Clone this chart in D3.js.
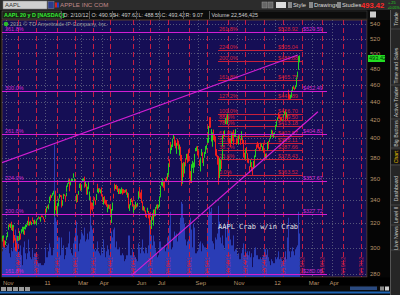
<!DOCTYPE html>
<html><head><meta charset="utf-8">
<script src="https://cdn.jsdelivr.net/npm/d3@7"></script>
<style>
html,body{margin:0;padding:0;background:#0b0b0b;overflow:hidden;}
svg{display:block;font-family:"Liberation Sans",Arial,sans-serif;}
</style></head><body>
<svg id="c" width="400" height="295"></svg>
<script>
// ---------------- DATA (AAPL daily, 25 Oct 2010 - 10 Feb 2012) ----------------
const opens = [
309.1,306.9,307.7,307.9,304.2,
302.2,307.0,311.4,315.5,317.9,317.2,321.0,316.5,315.6,315.0,308.5,305.7,301.2,305.6,307.9,306.7,311.0,312.0,313.8,315.5,313.5,
315.3,317.5,317.0,318.6,325.5,319.4,322.1,319.7,324.5,321.5,320.0,321.1,321.6,321.6,323.2,324.4,325.0,322.9,325.9,326.2,325.5,322.9,
325.6,332.4,329.6,334.7,333.9,338.8,344.9,343.3,345.2,346.0,329.5,348.4,336.4,333.8,326.9,336.3,342.9,343.8,344.2,335.8,
341.3,344.5,343.8,343.6,347.9,353.7,355.2,357.4,354.8,356.8,359.2,360.8,357.0,358.2,342.4,338.8,344.0,345.3,351.2,
355.5,349.9,357.2,359.7,361.4,354.9,354.7,349.1,345.3,353.2,342.1,342.0,336.8,337.1,335.0,342.6,339.3,341.9,348.1,353.2,347.7,350.6,346.4,
351.1,344.3,336.9,341.2,338.1,339.9,335.0,330.4,335.0,334.8,333.3,326.1,333.1,343.5,355.0,350.3,353.6,352.2,346.2,346.8,
349.7,347.9,348.4,348.4,349.7,347.9,348.9,349.0,346.1,345.8,339.2,332.0,336.5,341.3,339.6,329.1,335.5,333.3,335.9,334.8,341.1,
348.9,346.5,345.7,345.7,338.9,331.8,333.3,330.5,327.0,330.0,329.8,326.0,328.8,317.4,316.7,325.2,318.0,331.4,327.3,333.0,336.1,334.7,
335.9,343.0,349.2,354.7,353.3,354.7,353.8,358.3,361.0,361.1,364.5,378.0,396.0,386.9,388.3,391.8,400.1,400.6,392.0,387.6,
397.8,397.6,390.9,389.4,380.4,361.7,361.3,371.2,370.5,378.5,379.0,381.3,382.4,370.3,362.7,364.5,360.3,372.2,365.2,372.0,388.6,388.3,390.6,
385.8,375.6,367.5,385.6,383.8,382.5,372.6,382.1,387.8,392.0,395.5,396.5,415.3,419.6,401.0,400.3,399.9,408.7,400.2,401.9,387.1,
380.4,374.6,367.9,373.3,375.8,379.1,392.6,407.3,404.7,416.8,421.2,421.8,401.4,400.0,398.1,395.1,405.0,401.8,407.6,402.7,402.4,
397.4,399.9,399.1,402.0,399.9,402.2,396.9,398.0,386.6,383.5,380.8,389.3,383.9,378.9,370.4,371.0,374.5,368.4,372.4,375.8,381.3,
382.5,389.8,393.5,392.5,389.9,391.5,392.9,388.8,393.0,386.7,383.3,380.4,382.5,387.8,396.7,397.0,399.7,403.1,406.9,403.4,403.5,
409.4,410.0,414.9,419.8,425.5,425.9,422.6,422.3,419.7,424.2,426.0,430.0,427.5,422.7,425.1,454.4,448.0,444.3,445.7,455.6,
458.4,455.9,457.3,458.4,465.3,470.5,480.0,490.96];
const highs = [
311.6,309.7,309.9,308.0,305.9,
305.6,309.6,312.9,318.8,319.6,319.8,321.3,318.8,318.4,316.8,310.2,307.6,303.6,309.4,308.0,313.4,311.4,315.0,317.0,317.0,314.0,
317.2,319.0,318.9,322.0,325.5,321.3,322.2,321.1,325.0,322.6,323.0,322.6,321.6,323.2,324.4,325.7,325.2,325.4,326.7,326.5,325.5,323.5,
330.3,332.5,334.3,335.3,336.4,343.2,344.9,344.4,346.6,348.5,344.8,348.6,338.3,334.9,337.5,341.4,345.6,344.7,344.4,340.0,
345.7,345.3,344.2,346.7,353.3,355.5,359.0,360.0,357.8,359.5,359.9,364.9,360.3,359.4,345.4,344.6,345.2,348.4,355.1,
355.7,354.4,359.8,360.0,361.7,357.4,354.8,349.8,352.3,356.5,347.8,343.0,338.0,337.8,339.6,342.6,340.2,345.5,352.0,355.0,350.9,350.9,349.8,
351.6,344.9,342.9,343.6,340.4,340.1,336.4,333.6,336.1,336.0,333.6,332.2,337.9,345.8,355.1,353.8,354.2,352.9,349.1,350.6,
350.5,349.9,351.5,350.3,350.0,349.2,349.7,350.0,347.1,346.3,341.2,336.3,341.1,342.0,340.0,334.9,335.9,338.6,336.4,337.6,348.0,
352.1,347.0,347.0,349.5,338.9,334.8,333.7,331.0,328.2,333.3,330.4,326.9,328.8,317.8,325.8,328.6,331.7,331.9,333.9,336.0,336.4,336.0,
343.5,349.8,353.0,357.7,360.0,357.8,357.4,360.0,361.6,365.1,374.6,378.6,396.3,390.3,393.5,399.8,404.5,402.0,398.0,395.2,
399.5,397.6,393.6,391.3,383.0,367.3,374.7,376.0,375.5,379.6,384.0,384.2,388.6,372.7,367.0,366.2,373.7,377.0,375.4,384.0,390.0,391.5,392.1,
387.6,378.3,380.3,385.6,389.0,385.6,380.0,386.0,392.0,393.3,400.6,413.2,422.9,422.9,409.8,406.2,404.0,409.3,403.7,402.2,388.9,
382.6,381.8,379.8,378.0,377.7,388.9,403.2,407.6,408.5,422.1,425.0,426.7,408.9,400.4,399.1,406.0,406.0,402.0,409.0,405.5,409.7,
399.5,400.0,403.2,403.4,400.0,407.6,400.9,398.3,388.7,385.2,389.5,391.1,384.6,379.0,371.7,377.9,375.8,371.0,377.0,378.8,382.4,
389.0,393.6,396.4,394.6,390.9,395.5,394.6,391.9,395.4,387.4,383.7,384.2,384.5,396.1,397.3,399.1,403.6,409.1,408.3,405.7,406.3,
412.5,414.7,418.6,422.8,427.8,426.0,422.9,422.9,420.5,426.0,429.5,431.4,427.5,428.5,425.1,454.5,448.8,448.5,453.9,458.2,
459.0,457.2,460.0,465.0,469.8,476.8,496.8,497.62];
const lows = [
307.5,305.0,305.6,300.9,300.1,
302.2,306.0,308.5,314.5,316.8,316.0,314.3,313.5,314.3,303.9,305.7,297.7,297.0,305.2,305.4,305.9,306.6,311.5,313.0,310.8,310.3,
315.0,314.8,316.7,318.3,318.0,318.0,319.0,318.4,321.6,319.3,319.0,320.0,320.0,318.2,322.9,323.9,323.3,321.3,325.1,325.1,323.2,320.9,
324.8,328.2,329.2,332.9,331.9,337.2,339.4,342.0,343.9,345.1,326.0,336.9,331.1,326.6,326.5,334.6,341.5,342.8,333.5,335.0,
340.9,343.6,338.6,343.5,347.6,352.2,354.9,348.0,353.5,356.6,357.6,360.5,356.5,346.8,337.7,338.4,338.4,344.8,351.0,
348.4,348.6,356.7,357.8,351.3,352.3,348.5,344.9,345.0,349.9,340.1,326.3,331.6,330.0,334.9,339.6,335.9,339.9,347.0,350.1,346.1,347.3,346.1,
343.3,338.6,336.0,337.0,336.0,334.3,330.0,329.3,332.5,332.1,326.8,320.2,330.9,341.5,348.5,350.1,349.6,347.4,345.5,346.3,
345.5,345.6,346.1,345.0,346.2,346.5,347.0,344.9,342.3,340.0,332.6,330.5,335.5,338.3,334.3,329.0,331.3,332.4,333.5,334.3,340.6,
344.7,342.8,341.2,337.6,331.0,330.7,330.0,325.5,324.6,329.3,324.1,318.3,319.5,310.5,315.2,322.4,318.0,325.7,326.1,332.6,331.6,332.8,
334.4,342.5,347.3,353.5,352.5,351.2,348.6,356.7,356.4,358.9,363.6,370.9,385.0,384.0,387.8,391.0,399.7,392.2,389.6,384.0,
392.4,388.4,382.2,377.0,362.6,353.0,355.0,361.2,364.7,371.6,378.3,375.0,376.2,359.7,355.9,355.6,357.3,370.1,365.1,370.6,386.6,386.8,382.4,
380.0,371.9,366.6,382.0,382.0,375.0,371.9,380.1,383.9,388.4,395.0,395.4,411.0,411.4,396.7,399.2,391.3,398.1,396.5,382.2,381.2,
373.2,354.2,360.3,366.9,369.1,378.2,391.5,400.0,402.5,415.3,415.0,415.0,396.8,394.9,390.8,394.9,397.0,393.0,401.9,401.6,401.8,
393.2,394.1,393.3,399.2,393.3,398.1,394.2,383.5,380.3,378.2,378.6,384.4,375.2,374.6,365.2,370.9,366.8,363.3,370.1,370.2,378.4,
380.8,388.6,390.4,389.2,386.8,388.4,391.0,387.3,385.2,377.7,378.3,379.6,380.0,387.5,389.0,396.3,399.5,403.0,401.5,400.5,403.5,
409.0,409.3,412.5,419.2,421.4,421.5,419.3,418.8,418.7,423.0,425.9,426.0,419.8,422.3,419.6,443.7,443.1,443.8,445.4,453.1,
455.6,454.0,455.6,458.2,464.1,469.8,479.0,488.55];
const closes = [
308.84,308.05,307.83,305.24,300.98,
304.18,309.36,312.80,318.27,317.13,318.62,316.08,318.03,316.66,308.03,307.04,301.59,300.50,308.43,306.73,313.36,308.73,314.80,315.00,316.87,311.15,
316.40,318.15,317.44,320.15,318.21,321.01,319.76,320.56,321.67,320.29,320.36,321.25,320.61,322.21,324.20,325.16,323.60,324.68,325.47,325.29,323.66,322.56,
329.57,331.29,334.00,333.73,336.12,342.46,341.64,344.42,345.68,348.48,340.65,338.84,332.68,326.72,337.45,341.40,343.85,343.21,336.10,339.32,
345.03,344.32,343.44,346.50,351.88,355.20,358.16,354.54,356.85,359.18,359.90,363.13,358.30,350.56,338.61,342.62,342.88,348.16,353.21,
349.31,352.12,359.56,360.00,355.36,355.76,352.47,346.67,351.99,353.56,345.43,330.01,334.64,330.67,339.30,341.20,339.19,344.97,351.54,350.44,350.96,348.63,348.51,
344.56,341.19,338.89,338.04,338.08,335.06,330.80,332.40,336.13,332.42,327.46,331.85,337.86,342.41,350.70,353.01,350.42,350.15,346.75,350.13,
346.28,348.20,349.57,346.75,346.66,347.60,349.45,347.23,346.57,340.50,333.30,336.14,339.87,340.53,335.22,334.40,332.19,336.78,335.00,337.41,347.83,
345.51,346.10,343.44,338.04,332.04,332.24,331.49,325.90,326.60,332.44,326.75,325.16,320.26,315.32,325.30,322.61,331.23,326.35,332.04,335.26,334.04,335.67,
343.26,349.43,351.76,357.20,359.71,354.00,353.75,358.02,357.77,364.92,373.80,376.85,386.90,387.29,393.30,398.50,403.41,392.59,391.82,390.48,
396.75,388.91,392.57,377.37,373.62,353.21,374.01,363.69,373.70,376.99,383.41,380.48,380.44,366.05,356.03,356.44,373.60,376.18,373.72,383.58,389.97,389.99,384.83,
381.03,374.05,379.74,383.93,384.14,377.48,379.94,384.62,389.30,392.96,400.50,411.63,413.45,412.14,401.82,404.30,403.17,399.26,397.01,390.57,381.32,
374.60,372.50,378.25,377.37,369.80,388.81,400.29,402.19,408.43,422.00,419.99,422.24,398.62,395.31,392.87,405.77,397.77,400.60,404.69,404.95,404.78,
396.51,397.41,403.07,400.24,399.73,406.23,395.28,385.22,384.62,379.26,388.83,384.77,377.41,374.94,369.01,376.51,366.99,363.57,376.12,373.20,382.20,
387.93,389.70,393.01,390.95,389.09,390.66,393.62,391.84,388.81,380.19,378.94,381.02,382.21,395.95,396.45,398.55,403.33,406.53,402.64,405.12,405.00,
411.23,413.44,418.03,422.40,421.73,423.24,422.55,421.39,419.81,424.70,429.11,427.75,420.30,427.41,420.41,446.66,444.63,447.28,453.01,456.48,
456.19,455.12,459.68,463.97,468.83,476.68,493.17,493.42];
const volumes = [ // millions of shares
15,13,14,16,15,
14,15,16,17,12,10,14,13,11,20,15,24,21,18,11,13,16,11,6,15,18,
14,12,9,12,19,13,10,9,14,10,12,10,12,12,8,7,7,7,6,6,6,7,
15,11,10,10,13,17,15,11,11,14,67,30,23,28,18,20,20,11,20,14,
16,9,11,10,15,15,17,23,14,12,11,17,20,24,28,22,21,13,17,
19,23,22,21,25,18,17,19,22,19,23,41,26,24,17,14,13,14,18,13,13,12,11,
15,12,19,14,10,13,16,14,14,11,17,23,20,24,25,15,18,14,14,13,
15,11,11,12,11,8,9,11,11,13,21,21,11,11,14,12,11,10,9,8,17,
15,11,12,15,19,13,12,15,14,12,16,25,30,27,21,16,21,18,14,12,10,11,
18,18,16,15,15,15,16,13,15,20,21,26,33,17,14,15,20,23,21,22,
18,21,23,30,38,36,37,30,27,19,16,18,19,27,30,19,24,15,27,25,12,12,13,
14,17,18,12,13,17,16,15,15,14,24,31,35,33,35,18,18,17,14,20,19,
22,36,28,20,17,15,21,16,14,26,20,28,38,24,19,16,16,21,18,13,14,
14,11,12,9,9,12,14,17,12,11,15,12,13,11,13,10,12,5,10,12,14,
15,11,11,9,9,10,9,10,11,15,13,14,11,14,10,8,6,9,8,7,7,
10,9,9,10,13,9,10,9,8,8,10,9,13,9,20,30,13,10,13,15,
13,11,14,11,15,16,33,22];

const priceTicks = [540,520,500,480,460,440,420,400,380,360,340,320,300,280];
const monthLabels = ["Nov","11","Mar","Apr","Jun","Jul","Sep","Nov","12","Mar","Apr"];
const monthBars   = [5,48,87,110,151,173,216,258,300,340,362];

const timeLineBars   = [18,38,61,81,101,119,144,163,183,206,225,248,267,288,309,330,352,374,394];
const timeLineLabels = ["11/18/10","12/17/10","1/21/11","2/18/11","3/21/11","4/14/11","5/20/11","6/17/11","7/18/11","8/18/11","9/15/11","10/18/11","11/14/11","12/14/11","1/17/12","2/15/12","3/19/12","4/19/12","5/17/12"];

const bigFibPct   = ["161.8%","200.0%","224.0%","261.8%","300.0%","361.8%"];
const bigFibPrice = [280.06,327.72,357.67,404.83,452.49,529.59];

const crabFibPct   = ["0.0%","23.6%","38.2%","50.0%","61.8%","78.6%","88.6%","100.0%","127.2%","161.8%","200.0%","224.0%","261.8%"];
const crabFibPrice = [363.52,378.43,387.66,395.11,402.57,413.18,419.50,426.70,443.89,465.75,489.88,505.04,528.92];

const trendA = [[0,375],[325,498]];   // [bar, price]
const trendB = [[143,279],[347,429]];

const headerFields = ["D: 2/10/12","O: 490.96","H: 497.62","L: 488.55","C: 493.42","R: 9.07","Volume 22,546,425"];
const sideTabs = ["Trade","Time and Sales","Active Trader","Big Buttons","Chart","Dashboard","Level II","Live News"];

// ---------------- LAYOUT ----------------
const svg = d3.select("#c");
const P = {l:2, r:367, t:20, b:277};
const x = d3.scaleLinear().domain([0,400]).range([1.2, 1.2 + 400*0.9127]);
const y = d3.scaleLog().domain([277.8,546]).range([P.b, P.t]);
const yv = d3.scaleLinear().domain([0,130]).range([P.b, P.t]);

svg.append("rect").attr("width",400).attr("height",295).attr("fill","#080808");

// ---- top toolbar ----
svg.append("rect").attr("x",0).attr("y",0).attr("width",400).attr("height",10).attr("fill","#2c2c2c");
svg.append("rect").attr("x",3).attr("y",1).attr("width",44).attr("height",8).attr("fill","#cfcfcf").attr("stroke","#777").attr("stroke-width",0.5);
svg.append("text").attr("x",5).attr("y",7.4).attr("font-size",6).attr("fill","#333").text("AAPL");
svg.append("rect").attr("x",48).attr("y",1.5).attr("width",6).attr("height",7).attr("fill","#2c3e8c").attr("stroke","#889").attr("stroke-width",0.5);
svg.append("rect").attr("x",55).attr("y",2.5).attr("width",2).attr("height",5).attr("fill","#d02020");
svg.append("rect").attr("x",57).attr("y",2.5).attr("width",2).attr("height",5).attr("fill","#2040c0");
svg.append("text").attr("x",60).attr("y",7.4).attr("font-size",6.2).attr("fill","#c08a8a").text("APPLE INC COM");
[[262,5],[268,5]].forEach(b=>svg.append("rect").attr("x",b[0]).attr("y",2).attr("width",b[1]).attr("height",6).attr("fill","#666").attr("stroke","#999").attr("stroke-width",0.5));
svg.append("rect").attr("x",276).attr("y",2).attr("width",10).attr("height",6).attr("fill","#ddd");
const tbtn = [["Style",288],["Drawings",309],["Studies",337]];
tbtn.forEach(b=>{
  svg.append("rect").attr("x",b[1]).attr("y",2).attr("width",4).attr("height",6).attr("fill","#888");
  svg.append("text").attr("x",b[1]+5).attr("y",7.4).attr("font-size",5.8).attr("fill","#ddd").text(b[0]);
});
svg.append("text").attr("x",361).attr("y",8.3).attr("font-size",7.6).attr("font-weight","bold").attr("fill","#ff2a2a").text("493.42");
svg.append("text").attr("x",388).attr("y",4.3).attr("font-size",3.8).attr("fill","#22dd22").text("+.25");
svg.append("text").attr("x",387.5).attr("y",8.8).attr("font-size",3.6).attr("fill","#22dd22").text("+0.05%");

// ---- header row ----
svg.append("rect").attr("x",0).attr("y",10).attr("width",400).attr("height",10).attr("fill","#0c0c0c");
svg.append("rect").attr("x",2).attr("y",11).attr("width",59).attr("height",8).attr("fill","#1b2416").attr("stroke","#666").attr("stroke-width",0.5);
svg.append("text").attr("x",4).attr("y",17.2).attr("font-size",5.4).attr("font-weight","bold").attr("fill","#33ee33").text("AAPL 20 y D [NASDAQ]");
const hx = [62,90,113,137,160,184,210];
headerFields.forEach((t,i)=>{
  svg.append("text").attr("x",hx[i]+1.5).attr("y",17.2).attr("font-size",5.4).attr("fill","#cfcfcf").text(t);
  svg.append("line").attr("x1",hx[i]-0.5).attr("x2",hx[i]-0.5).attr("y1",11).attr("y2",19).attr("stroke","#555");
});
svg.append("rect").attr("x",253).attr("y",11).attr("width",114).attr("height",8).attr("fill","none").attr("stroke","#444").attr("stroke-width",0.5);
svg.append("rect").attr("x",370).attr("y",11.5).attr("width",6).attr("height",6).attr("fill","#ccc");

// ---- plot area ----
svg.append("rect").attr("x",P.l).attr("y",P.t).attr("width",P.r-P.l).attr("height",P.b-P.t).attr("fill","#150e55").attr("stroke","#5a4030").attr("stroke-width",1);
svg.append("defs").append("clipPath").attr("id","clip").append("rect").attr("x",P.l).attr("y",P.t).attr("width",P.r-P.l).attr("height",P.b-P.t);
const g = svg.append("g").attr("clip-path","url(#clip)");

g.selectAll(".hg").data(priceTicks).join("line").attr("x1",P.l).attr("x2",P.r)
  .attr("y1",d=>Math.round(y(d))+0.5).attr("y2",d=>Math.round(y(d))+0.5)
  .attr("stroke","#55557a").attr("stroke-dasharray","1,2");
g.selectAll(".vg").data(monthBars).join("line").attr("y1",P.t).attr("y2",P.b)
  .attr("x1",d=>Math.round(x(d))+0.5).attr("x2",d=>Math.round(x(d))+0.5)
  .attr("stroke","#55557a").attr("stroke-dasharray","1,2");

g.selectAll(".vol").data(volumes).join("rect")
  .attr("x",(d,i)=>Math.floor(x(i))).attr("width",1)
  .attr("y",d=>yv(d)).attr("height",d=>P.b-yv(d)).attr("fill","#2a3db6");

g.selectAll(".tl").data(timeLineBars).join("line")
  .attr("x1",d=>Math.round(x(d))+0.5).attr("x2",d=>Math.round(x(d))+0.5)
  .attr("y1",P.t).attr("y2",P.b).attr("stroke","#c41e44").attr("stroke-width",1).attr("stroke-dasharray","5,3");
g.selectAll(".tlt").data(timeLineBars).join("text")
  .attr("transform",d=>`translate(${Math.round(x(d))+0.5},${P.b-2}) rotate(-90)`)
  .attr("dy","0.35em").attr("font-size",5.5).attr("fill","#d8204a")
  .text((d,i)=>timeLineLabels[i]);

const cx0 = 218, cx1 = 303;
crabFibPrice.forEach((p,i)=>{
  const yy = Math.round(y(p))+0.5;
  g.append("line").attr("x1",cx0).attr("x2",cx1).attr("y1",yy).attr("y2",yy).attr("stroke","#c8203c").attr("stroke-width",1);
  g.append("text").attr("x",cx0+1).attr("y",yy-1.2).attr("font-size",5.5).attr("fill","#d8203c").text(crabFibPct[i]);
  g.append("text").attr("x",cx0+60).attr("y",yy-1.2).attr("font-size",5.5).attr("fill","#d8203c").text("$"+p.toFixed(2));
});

const idx = d3.range(closes.length);
g.selectAll(".cd").data(idx).join("rect")
  .attr("x",i=>Math.floor(x(i))).attr("width",1)
  .attr("y",i=>y(highs[i])).attr("height",i=>Math.max(1,y(lows[i])-y(highs[i])))
  .attr("fill",i=>closes[i]>=opens[i]?"#22d022":"#f01e1e");

bigFibPrice.forEach((p,i)=>{
  const yy = Math.round(y(p))+0.5;
  g.append("line").attr("x1",P.l).attr("x2",327).attr("y1",yy).attr("y2",yy).attr("stroke","#d21ed2").attr("stroke-width",1);
  g.append("text").attr("x",5).attr("y",yy-1.2).attr("font-size",5.5).attr("fill","#d42ad4").text(bigFibPct[i]);
  g.append("text").attr("x",303).attr("y",yy-1.2).attr("font-size",5.5).attr("fill","#d42ad4").text("$"+p.toFixed(2));
});

[trendA,trendB].forEach(t=>{
  g.append("line").attr("x1",x(t[0][0])).attr("y1",y(t[0][1])).attr("x2",x(t[1][0])).attr("y2",y(t[1][1]))
   .attr("stroke","#d21ed2").attr("stroke-width",1.2);
});

g.append("text").attr("x",218).attr("y",229).attr("font-family","'DejaVu Sans Mono',monospace").attr("font-size",7).attr("fill","#e6e6e6").text("AAPL Crab w/in Crab");

g.append("circle").attr("cx",6).attr("cy",24).attr("r",2.3).attr("fill","#2eb82e");
g.append("text").attr("x",10).attr("y",26).attr("font-size",5.5).attr("fill","#9a9a9a").text("2011 © TD Ameritrade IP Company, Inc.");

// ---- right axis ----
svg.append("rect").attr("x",P.r+0.5).attr("y",P.t).attr("width",23).attr("height",P.b-P.t+10).attr("fill","#050505");
svg.selectAll(".yl").data(priceTicks).join("text").attr("x",370).attr("y",d=>y(d)).attr("dy","0.35em")
  .attr("font-size",6).attr("fill","#b8946c").text(d=>d);
svg.append("rect").attr("x",368).attr("y",y(493.42)-3.5).attr("width",17).attr("height",7).attr("fill","#22dd22");
svg.append("text").attr("x",369).attr("y",y(493.42)).attr("dy","0.35em").attr("font-size",5.6).attr("fill","#063006").text("493.42");

// ---- x axis ----
svg.append("rect").attr("x",0).attr("y",P.b+0.5).attr("width",390).attr("height",8).attr("fill","#000");
svg.selectAll(".xl").data(monthBars).join("text").attr("x",d=>x(d)+2.5).attr("y",284.5)
  .attr("text-anchor","middle").attr("font-size",6).attr("fill","#b8946c").text((d,i)=>monthLabels[i]);

// ---- bottom bar ----
svg.append("rect").attr("x",0).attr("y",286).attr("width",400).attr("height",9).attr("fill","#0a0a0a");
for(let k=0;k<5;k++) svg.append("rect").attr("x",1+k*6).attr("y",287).attr("width",5).attr("height",4).attr("fill","#9a9a9a");
svg.append("rect").attr("x",350).attr("y",286.5).attr("width",27).attr("height",3.5).attr("fill","#2a4a80");
svg.append("rect").attr("x",380).attr("y",286.5).attr("width",4).attr("height",4).attr("fill","#888");
svg.append("rect").attr("x",385).attr("y",286.5).attr("width",4).attr("height",4).attr("fill","#ccc");
svg.append("rect").attr("x",0).attr("y",291.5).attr("width",390).attr("height",2).attr("fill","#1e64b4");

// ---- side tabs ----
svg.append("rect").attr("x",390.5).attr("y",10).attr("width",9.5).attr("height",285).attr("fill","#262626");
svg.append("line").attr("x1",390.5).attr("x2",390.5).attr("y1",10).attr("y2",295).attr("stroke","#555");
const tabY = [[10,28],[47,84],[86,118],[120,147],[150,164],[173,204],[206,224],[227,249]];
sideTabs.forEach((t,i)=>{
  const [a,b] = tabY[i];
  if(t==="Chart") svg.append("rect").attr("x",391).attr("y",a).attr("width",9).attr("height",b-a).attr("fill","#141414");
  svg.append("line").attr("x1",391).attr("x2",400).attr("y1",b+1).attr("y2",b+1).attr("stroke","#444");
  svg.append("text").attr("transform",`translate(396.5,${(a+b)/2}) rotate(-90)`).attr("text-anchor","middle").attr("dy","0.35em")
    .attr("font-size",5.2).attr("fill",t==="Chart"?"#e8c000":"#c8c8c8").text(t);
});
</script></body></html>
